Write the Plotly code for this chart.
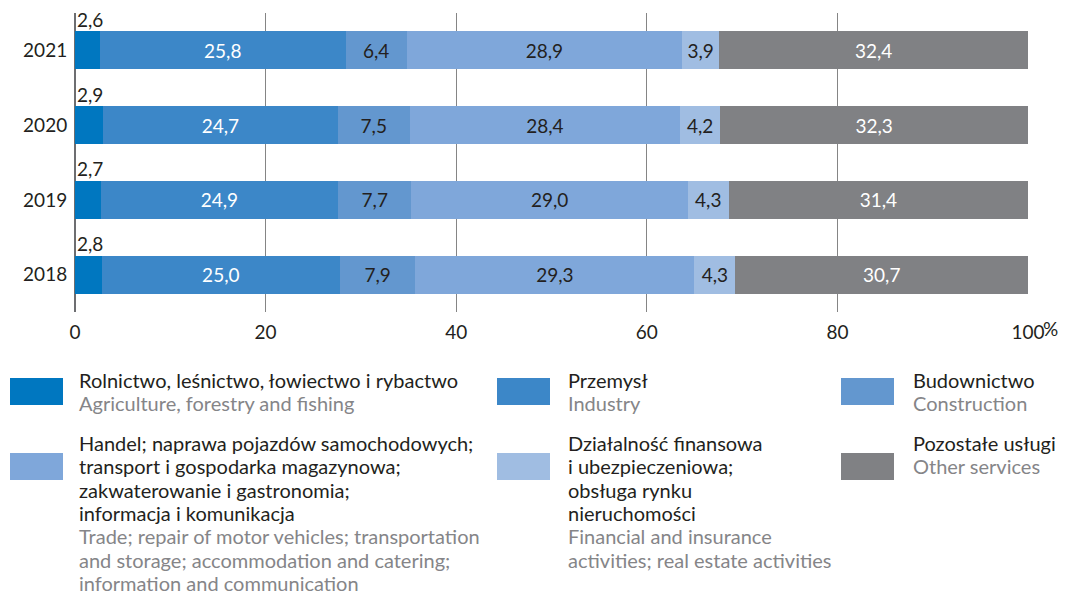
import plotly.graph_objects as go

# dane (udział w %)
years = ['2018', '2019', '2020', '2021']
rolnictwo = [2.8, 2.7, 2.9, 2.6]
przemysl = [25.0, 24.9, 24.7, 25.8]
budownictwo = [7.9, 7.7, 7.5, 6.4]
handel = [29.3, 29.0, 28.4, 28.9]
finanse = [4.3, 4.3, 4.2, 3.9]
pozostale = [30.7, 31.4, 32.3, 32.4]

tick_vals = [0, 20, 40, 60, 80, 100]
tick_text = ['0', '20', '40', '60', '80', '100']

pl_names = [
    ['Rolnictwo, leśnictwo, łowiectwo i rybactwo'],
    ['Przemysł'],
    ['Budownictwo'],
    ['Handel; naprawa pojazdów samochodowych;', 'transport i gospodarka magazynowa;',
     'zakwaterowanie i gastronomia;', 'informacja i komunikacja'],
    ['Działalność finansowa', 'i ubezpieczeniowa;', 'obsługa rynku', 'nieruchomości'],
    ['Pozostałe usługi'],
]
en_names = [
    ['Agriculture, forestry and fishing'],
    ['Industry'],
    ['Construction'],
    ['Trade; repair of motor vehicles; transportation', 'and storage; accommodation and catering;',
     'information and communication'],
    ['Financial and insurance', 'activities; real estate activities'],
    ['Other services'],
]

colors = ['#0077c0', '#3c87c8', '#6397cf', '#7fa7da', '#a0bde2', '#808184']
text_colors = ['#231f20', '#ffffff', '#231f20', '#231f20', '#231f20', '#ffffff']
FONT = 'Lato'
DARK = '#231f20'
GREY = '#858588'

W, H = 1068, 595
X0, X1, Y0, Y1 = 75, 1028, 13, 312


def px(x):
    return (x - X0) / (X1 - X0)


def py(y):
    return (Y1 - y) / (Y1 - Y0)


def fmt(v):
    return f'{v:.1f}'.replace('.', ',')


series = [rolnictwo, przemysl, budownictwo, handel, finanse, pozostale]

fig = go.Figure()
for i, vals in enumerate(series):
    txt = [''] * len(vals) if i == 0 else [fmt(v) for v in vals]
    fig.add_trace(go.Bar(
        y=years, x=vals, orientation='h', marker=dict(color=colors[i], line=dict(width=0)),
        text=txt, textposition='inside', insidetextanchor='middle', constraintext='none',
        textfont=dict(family=FONT, size=19, color=text_colors[i]),
        showlegend=False, hoverinfo='skip'))

# etykiety rolnictwa nad słupkami (y jako indeks kategorii)
for i, v in enumerate(rolnictwo):
    fig.add_annotation(x=0, y=i, xref='x', yref='y', text=fmt(v), showarrow=False,
                       xanchor='left', yanchor='middle', yshift=31,
                       font=dict(family=FONT, size=19, color=DARK))

# znak % przy 100
fig.add_annotation(x=100, y=py(328), xref='x', yref='paper', text='%', showarrow=False,
                   xanchor='left', yanchor='middle', xshift=13,
                   font=dict(family=FONT, size=19, color=DARK))

# legenda
cols = [(10, 77), (497, 566), (841, 911)]
rows = [(378, 380), (453, 443)]   # (góra kwadratu, środek 1. linii tekstu)
LINE = 23.3
for k in range(6):
    r, c = divmod(k, 3)
    sx, tx = cols[c]
    top, first = rows[r]
    fig.add_shape(type='rect', xref='paper', yref='paper',
                  x0=px(sx), x1=px(sx + 53), y0=py(top), y1=py(top + 27),
                  fillcolor=colors[k], line=dict(width=0))
    lines = [(t, DARK) for t in pl_names[k]] + [(t, GREY) for t in en_names[k]]
    for j, (t, col) in enumerate(lines):
        fig.add_annotation(x=px(tx), y=py(first + j * LINE), xref='paper', yref='paper',
                           text=t, showarrow=False, xanchor='left', yanchor='middle',
                           font=dict(family=FONT, size=20, color=col))

fig.update_layout(
    barmode='stack', bargap=0.49,
    width=W, height=H,
    margin=dict(l=X0, r=W - X1, t=Y0, b=H - Y1, autoexpand=False),
    plot_bgcolor='white', paper_bgcolor='white',
    font=dict(family=FONT, size=19, color=DARK),
    xaxis=dict(range=[0, 100], tickvals=tick_vals, ticktext=tick_text,
               showgrid=True, gridcolor='#858585', gridwidth=1.3,
               zeroline=True, zerolinecolor='#6d6e71', zerolinewidth=1.5,
               showline=False, ticks='outside', ticklen=3, tickcolor='white',
               tickfont=dict(family=FONT, size=19, color=DARK)),
    yaxis=dict(type='category', categoryorder='array', categoryarray=years,
               range=[-0.5, len(years) - 0.5],
               showgrid=False, showline=False, ticks='outside', ticklen=3, tickcolor='white',
               tickfont=dict(family=FONT, size=19, color=DARK)),
)

# bez marginesu strony
fig.write_html('out.html', config=dict(displayModeBar=False),
               post_script="document.body.style.margin='0';")
